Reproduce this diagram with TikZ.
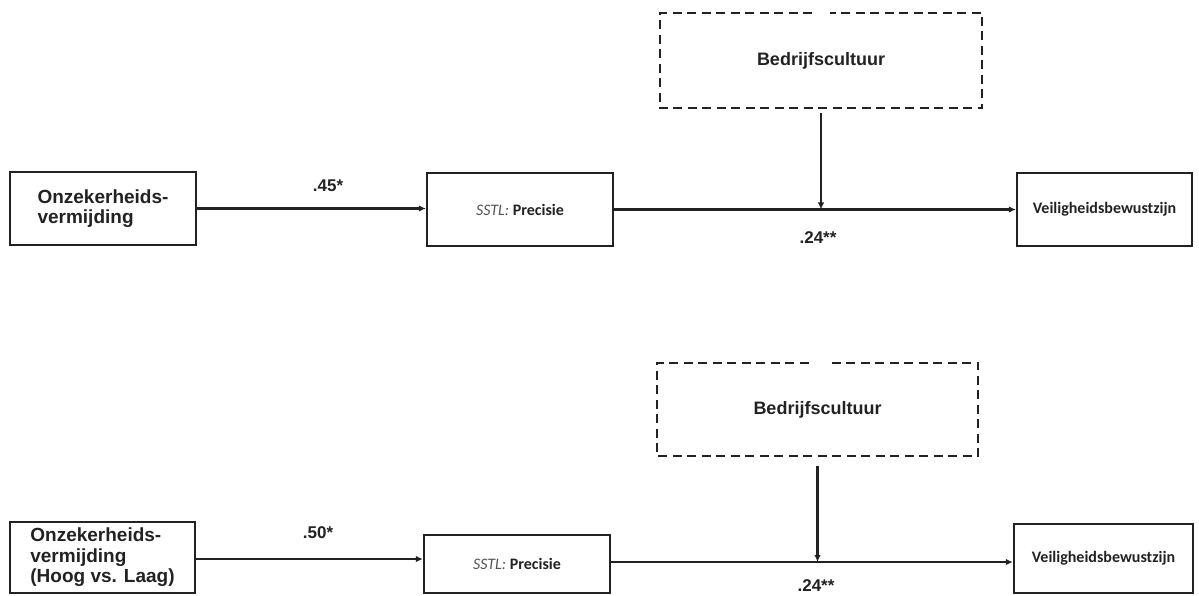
\documentclass[tikz,border=0pt]{standalone}
\usepackage{fontspec}
\setmainfont{Liberation Sans}
\newfontfamily\calfont{Carlito}
\usetikzlibrary{arrows.meta,calc}
\definecolor{ink}{HTML}{222222}
\definecolor{sstlgray}{HTML}{555555}
\begin{document}
\begin{tikzpicture}[x=1pt,y=-1pt,
  box/.style={draw=ink, line width=2.3pt, fill=white, inner sep=0pt, text=ink},
  leftbox/.style={box, align=left, font=\bfseries\fontsize{19}{20.5}\selectfont},
  calbox/.style={box, font=\calfont\bfseries\fontsize{16}{19}\selectfont},
  modbox/.style={inner sep=0pt, text=ink, font=\bfseries\fontsize{18}{20}\selectfont},
  dashline/.style={draw=ink, line width=2.4pt, dash pattern=on 9pt off 5.5pt},
  arr/.style={draw=ink, line width=2.6pt, -{Latex[length=7pt,width=6.5pt]}},
  lbl/.style={text=ink, font=\bfseries\fontsize{17}{20}\selectfont}
]
\useasboundingbox (0,0) rectangle (1199,596);
\fill[white] (0,0) rectangle (1199,596);

% ---------- top model ----------
\node[leftbox, minimum width=186pt, minimum height=73pt] (A) at (103,208.5) {Onzekerheids-\\vermijding};
\node[calbox, minimum width=186pt, minimum height=73pt] (B) at (520,209.5) {{\mdseries\itshape\color{sstlgray}SSTL:} Precisie};
\node[calbox, minimum width=175pt, minimum height=73pt] (C) at (1104.5,209.5) {Veiligheidsbewustzijn};
\node[modbox, minimum width=322pt, minimum height=95pt] (D) at (821,60.5) {Bedrijfscultuur};
\draw[dashline] ($(D.north)+(-9,0)$) -- (D.north west) -- (D.south west) -- (D.south east) -- (D.north east) -- ($(D.north)+(9,0)$);
\coordinate (m1) at (D.south |- B.east);
\draw[arr] (A.east) -- (A.east -| B.west);
\draw[arr] (B.east) -- (C.west);
\draw[arr] ($(D.south)+(0,5)$) -- (m1);
\node[lbl] (l1) at (328,186) {.45*};
\node[lbl] (l2) at (818,238) {.24**};

% ---------- bottom model ----------
\node[leftbox, minimum width=185pt, minimum height=71pt] (A2) at (102.5,557.5) {Onzekerheids-\\vermijding\\(Hoog vs. Laag)};
\node[calbox, minimum width=186pt, minimum height=58pt] (B2) at (517,564) {{\mdseries\itshape\color{sstlgray}SSTL:} Precisie};
\node[calbox, minimum width=179pt, minimum height=69pt] (C2) at (1103.5,558.5) {Veiligheidsbewustzijn};
\node[modbox, minimum width=321pt, minimum height=93pt] (D2) at (817.5,409.5) {Bedrijfscultuur};
\draw[dashline] ($(D2.north)+(-9,0)$) -- (D2.north west) -- (D2.south west) -- (D2.south east) -- (D2.north east) -- ($(D2.north)+(9,0)$);
\coordinate (m2) at (D2.south |- 0,562);
\draw[arr] (A2.east |- 0,559) -- (B2.west |- 0,559);
\draw[arr] (B2.east |- m2) -- (C2.west |- m2);
\draw[arr] ($(D2.south)+(0,10)$) -- (m2);
\node[lbl] (l3) at (318,533) {.50*};
\node[lbl] (l4) at (816,585.5) {.24**};
\end{tikzpicture}
\end{document}
